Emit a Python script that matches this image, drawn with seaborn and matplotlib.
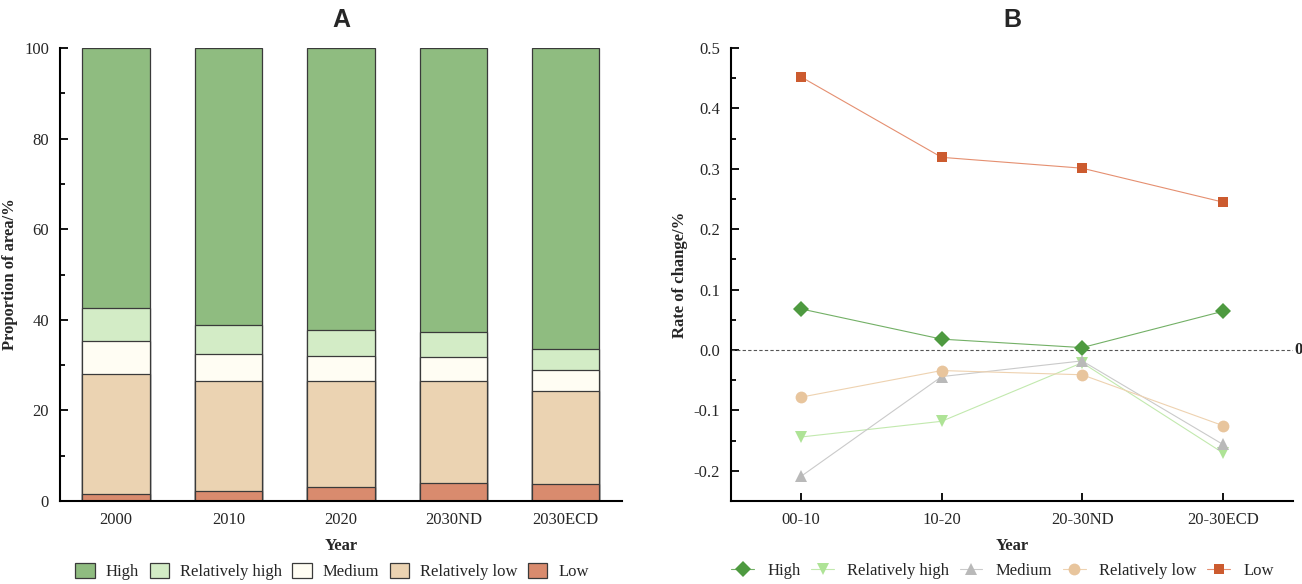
import numpy as np
import pandas as pd
import matplotlib
matplotlib.use('Agg')
import matplotlib.pyplot as plt
from matplotlib.lines import Line2D
from matplotlib.patches import Patch
from matplotlib.ticker import MultipleLocator, FormatStrFormatter
import seaborn as sns

# data
years = ['2000', '2010', '2020', '2030ND', '2030ECD']
classes = ['High', 'Relatively high', 'Medium', 'Relatively low', 'Low']
share_low = [1.6, 2.3, 3.0, 4.0, 3.8]
share_rel_low = [26.4, 24.3, 23.5, 22.5, 20.5]
share_medium = [7.3, 5.8, 5.6, 5.4, 4.7]
share_rel_high = [7.4, 6.4, 5.6, 5.5, 4.6]
share_high = [57.3, 61.2, 62.3, 62.6, 66.4]

periods = ['00-10', '10-20', '20-30ND', '20-30ECD']
rate_high = [0.068, 0.018, 0.004, 0.064]
rate_rel_high = [-0.144, -0.118, -0.021, -0.170]
rate_medium = [-0.209, -0.044, -0.018, -0.156]
rate_rel_low = [-0.078, -0.034, -0.041, -0.125]
rate_low = [0.452, 0.319, 0.301, 0.245]

bar_colors = ['#8fbc80', '#d3ecc6', '#fffdf3', '#ebd3b2', '#d98b6e']
marker_colors = ['#4e9a40', '#aee396', '#b9b9b9', '#e8c59d', '#cc5b2f']
line_colors = ['#73b066', '#c2e9ae', '#cacaca', '#eed2b0', '#e58f70']
markers = ['D', 'v', '^', 'o', 's']
marker_sizes = [8, 8.5, 8.5, 8.5, 7.5]

sns.set_theme(style='ticks')
plt.rcParams['font.family'] = ['Liberation Serif', 'DejaVu Serif']
plt.rcParams['xtick.direction'] = 'in'
plt.rcParams['ytick.direction'] = 'in'

fig = plt.figure(figsize=(13.02, 5.84), dpi=100)
ax1 = fig.add_axes([0.0461, 0.1421, 0.4316, 0.7757])
ax2 = fig.add_axes([0.5614, 0.1421, 0.4316, 0.7757])

# A: stacked bars (cumulative, drawn from top layer down)
shares = pd.DataFrame({'Low': share_low, 'Relatively low': share_rel_low,
                       'Medium': share_medium, 'Relatively high': share_rel_high,
                       'High': share_high}, index=years)
cum = shares.cumsum(axis=1)
for cls, col in zip(classes, bar_colors):
    sns.barplot(x=years, y=cum[cls].values, color=col, width=0.6,
                edgecolor='#3a3a3a', linewidth=0.9, saturation=1, ax=ax1)
ax1.set_xlim(-0.5, 4.5)
ax1.set_ylim(0, 100)
ax1.yaxis.set_major_locator(MultipleLocator(20))
ax1.yaxis.set_minor_locator(MultipleLocator(10))
ax1.set_xlabel('Year', fontsize=12, fontweight='bold', labelpad=7)
ax1.set_ylabel('Proportion of area/%', fontsize=12, fontweight='bold')
ax1.set_title('A', fontsize=18, fontweight='bold', family='Liberation Sans', pad=15)

# B: rate of change lines
rates = pd.DataFrame({'High': rate_high, 'Relatively high': rate_rel_high,
                      'Medium': rate_medium, 'Relatively low': rate_rel_low,
                      'Low': rate_low}, index=periods)
ax2.axhline(0, color='#555555', lw=0.8, ls=(0, (3, 2)), zorder=1)
for cls, lc, mc, mk, ms in zip(classes, line_colors, marker_colors, markers, marker_sizes):
    sns.lineplot(x=periods, y=rates[cls].values, color=lc, marker=mk,
                 markersize=ms, markeredgewidth=0, markerfacecolor=mc,
                 linewidth=0.8, ax=ax2)
ax2.set_xlim(-0.5, 3.5)
ax2.set_ylim(-0.25, 0.5)
ax2.yaxis.set_major_locator(MultipleLocator(0.1))
ax2.yaxis.set_minor_locator(MultipleLocator(0.05))
ax2.yaxis.set_major_formatter(FormatStrFormatter('%.1f'))
ax2.text(3.51, 0, '0', fontsize=12, fontweight='bold', va='center', ha='left')
ax2.set_xlabel('Year', fontsize=12, fontweight='bold', labelpad=7)
ax2.set_ylabel('Rate of change/%', fontsize=12, fontweight='bold')
ax2.set_title('B', fontsize=18, fontweight='bold', family='Liberation Sans', pad=15)

for ax in (ax1, ax2):
    sns.despine(ax=ax)
    ax.spines['left'].set_linewidth(1.5)
    ax.spines['bottom'].set_linewidth(1.5)
    ax.spines['left'].set_color('black')
    ax.spines['bottom'].set_color('black')
    ax.tick_params(axis='both', which='major', length=6, width=1.3, labelsize=12,
                   color='black', pad=8)
    ax.tick_params(axis='y', which='minor', length=3.5, width=1.3, color='black')
    ax.tick_params(axis='x', which='minor', bottom=False)
    ax.set_facecolor('white')

bar_handles = [Patch(facecolor=c, edgecolor='#3a3a3a', linewidth=0.9) for c in bar_colors]
fig.legend(bar_handles, classes, loc='center', bbox_to_anchor=(0.255, 0.021),
           ncol=5, frameon=False, fontsize=12, handlelength=1.15, handleheight=1.05,
           columnspacing=0.65, handletextpad=0.65)
line_handles = [Line2D([0], [0], color=lc, marker=m, markersize=ms, markeredgewidth=0,
                       markerfacecolor=mc, lw=0.8)
                for lc, mc, m, ms in zip(line_colors, marker_colors, markers, marker_sizes)]
fig.legend(line_handles, classes, loc='center', bbox_to_anchor=(0.770, 0.022),
           ncol=5, frameon=False, fontsize=12, handlelength=1.35,
           columnspacing=0.65, handletextpad=0.8)

fig.savefig('out.png', dpi=100)
